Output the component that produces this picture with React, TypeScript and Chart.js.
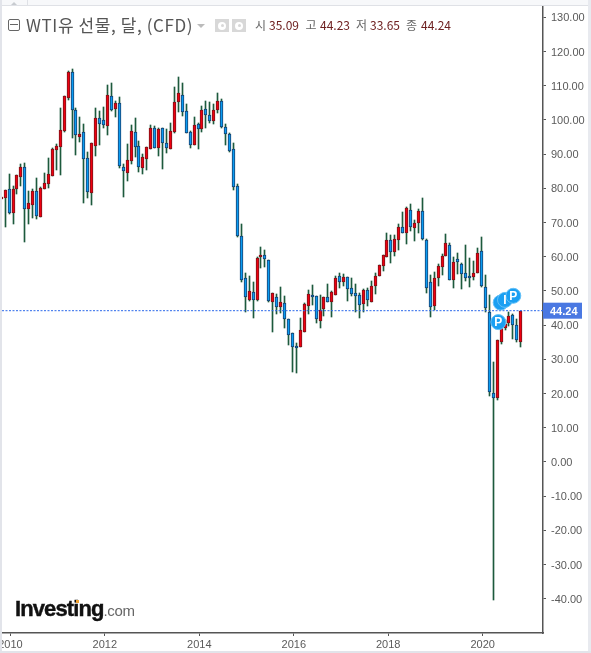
import React, { useEffect, useRef } from "react";
import { Chart, registerables } from "chart.js";

Chart.register(...registerables);

const firstMonthIndex = -2; // Nov 2009, relative to Jan 2010

const opens = [
  77.0, 77.3,
  79.7, 72.9, 79.9, 83.4, 86.2, 74.1, 75.2, 79.1, 71.7, 79.9, 81.4, 83.7,
  91.3, 92.2, 96.8, 106.5, 113.9, 102.8, 95.1, 96.4, 88.8, 78.7, 92.5, 100.5,
  99.9, 98.3, 106.9, 103.3, 104.9, 86.4, 84.6, 88.1, 96.4, 92.3, 86.1, 88.7,
  91.6, 97.6, 91.7, 97.6, 93.2, 91.6, 96.6, 105.4, 107.2, 102.5, 96.4, 92.8,
  98.7, 97.5, 103.1, 101.6, 99.8, 103.0, 105.5, 97.9, 95.8, 91.4, 80.6, 66.0,
  53.7, 47.5, 49.6, 47.4, 59.8, 60.4, 59.0, 46.9, 48.2, 45.3, 46.4, 41.7,
  37.6, 34.0, 33.7, 38.1, 45.7, 48.7, 48.4, 41.3, 44.8, 48.2, 46.7, 48.9,
  54.3, 52.7, 54.0, 50.8, 49.3, 48.7, 46.3, 50.2, 46.9, 51.5, 54.4, 57.4,
  60.0, 64.8, 61.5, 64.9, 68.6, 67.1, 73.6, 68.5, 70.0, 73.3, 64.8, 52.5,
  45.7, 53.9, 57.1, 60.2, 63.4, 53.3, 59.3, 57.8, 55.2, 54.4, 54.2, 55.4,
  61.6, 51.1, 43.8, 20.1, 18.8, 35.2, 39.3, 40.5, 42.9, 40.0, 35.09,
];
const closes = [
  77.5, 79.5,
  72.8, 79.7, 83.8, 86.2, 74.1, 75.6, 79.1, 72.0, 80.0, 81.5, 84.1, 91.4,
  92.3, 97.0, 106.9, 113.9, 102.8, 95.5, 95.8, 88.7, 79.0, 93.2, 100.5, 98.9,
  98.4, 107.2, 103.0, 104.9, 86.6, 85.0, 88.2, 96.7, 92.2, 86.4, 89.1, 92.0,
  97.6, 91.9, 97.3, 93.4, 91.9, 96.7, 105.2, 107.8, 102.4, 96.3, 92.8, 98.4,
  97.5, 102.8, 101.6, 99.8, 102.8, 105.5, 97.9, 96.0, 91.0, 80.5, 66.2, 53.3,
  48.1, 49.9, 47.5, 59.6, 60.4, 59.5, 47.2, 49.3, 45.2, 46.7, 41.7, 37.0,
  33.5, 33.7, 38.5, 46.1, 49.0, 48.3, 41.7, 44.5, 48.2, 46.9, 49.6, 53.7,
  52.7, 54.0, 50.7, 49.2, 48.4, 46.0, 50.2, 47.3, 51.6, 54.3, 57.5, 60.4,
  64.8, 61.5, 65.1, 68.6, 67.1, 74.2, 68.8, 69.8, 73.3, 65.3, 51.0, 45.4,
  53.7, 57.2, 60.1, 64.0, 53.3, 58.4, 58.6, 55.0, 53.9, 54.2, 55.2, 61.1,
  51.6, 45.0, 20.4, 18.8, 35.7, 39.3, 40.3, 42.6, 40.2, 35.7, 44.24,
];
const highs = [
  77.5, 79.5,
  84.2, 80.7, 83.8, 87.1, 87.4, 79.2, 79.7, 83.0, 80.4, 84.5, 88.9, 91.8,
  93.0, 103.5, 107.0, 114.3, 114.9, 103.5, 100.9, 98.7, 90.6, 93.2, 103.6, 102.6,
  103.8, 110.2, 110.8, 105.6, 106.7, 87.0, 93.0, 98.4, 100.5, 93.9, 90.0, 92.0,
  98.4, 98.2, 97.6, 97.8, 97.3, 99.1, 109.6, 112.6, 110.8, 104.7, 96.7, 100.9,
  99.0, 104.0, 105.5, 105.3, 104.6, 107.9, 106.0, 98.7, 96.1, 93.2, 81.2, 69.6,
  55.2, 54.3, 52.6, 59.8, 62.8, 62.0, 59.1, 49.3, 49.0, 51.2, 48.4, 41.8,
  37.6, 34.7, 42.0, 46.4, 50.3, 51.8, 48.5, 48.7, 48.2, 52.1, 49.9, 54.4,
  55.2, 54.9, 54.2, 53.8, 52.0, 49.3, 50.5, 50.8, 52.8, 55.2, 57.5, 60.4,
  66.9, 66.3, 66.4, 69.6, 73.1, 74.5, 75.4, 70.7, 74.0, 77.2, 65.3, 54.6,
  55.5, 57.9, 60.8, 66.6, 64.0, 59.8, 61.0, 58.1, 63.5, 59.7, 58.8, 62.6,
  65.7, 54.7, 48.7, 29.2, 35.7, 40.4, 41.6, 43.8, 43.3, 41.8, 44.24,
];
const lows = [
  77.0, 68.8,
  72.5, 69.6, 78.4, 80.7, 64.3, 69.6, 71.3, 71.1, 71.7, 79.7, 80.1, 83.7,
  85.4, 83.9, 96.6, 105.7, 94.7, 89.8, 93.7, 75.7, 77.2, 75.1, 89.5, 92.7,
  97.7, 95.6, 102.6, 100.9, 86.0, 77.5, 82.2, 87.1, 89.2, 84.9, 84.3, 85.4,
  91.6, 91.8, 89.5, 85.7, 90.3, 91.6, 96.3, 102.3, 101.2, 96.3, 91.9, 92.8,
  91.5, 96.5, 97.7, 99.1, 98.8, 101.9, 97.7, 92.7, 90.6, 79.6, 65.8, 52.7,
  44.0, 47.2, 42.2, 47.2, 56.7, 57.0, 46.8, 38.0, 43.4, 43.7, 39.2, 34.2,
  26.3, 26.1, 33.7, 37.9, 43.3, 45.8, 40.6, 39.3, 42.8, 46.8, 42.5, 48.9,
  51.0, 51.6, 47.2, 48.4, 44.0, 42.2, 44.0, 45.6, 46.9, 49.1, 54.4, 55.9,
  60.0, 58.2, 60.2, 62.0, 66.9, 63.8, 67.4, 64.6, 67.0, 64.8, 49.4, 42.4,
  44.4, 51.5, 54.6, 60.2, 53.1, 50.9, 55.1, 50.6, 53.0, 51.3, 53.1, 55.4,
  51.3, 43.9, 19.3, -40.3, 18.1, 34.5, 38.7, 39.9, 36.1, 35.0, 33.65,
];

const lastPrice = 44.24;
const yTicks = [130, 120, 110, 100, 90, 80, 70, 60, 50, 40, 30, 20, 10, 0, -10, -20, -30, -40];
const xYears = [2010, 2012, 2014, 2016, 2018, 2020];
const markerX = [124.3, 124.9, 126.0, 128.1];
const markerY = [40.9, 46.6, 47.4, 48.6];
const markerLetters = ["P", "", "I", "P"];

const quoteLabels = ["시", "고", "저", "종"];
const quoteValues = ["35.09", "44.23", "33.65", "44.24"];

const RED = "#ee0010";
const RED_EDGE = "#7c1318";
const BLUE = "#0a9cf2";
const BLUE_EDGE = "#17406f";
const WICK = "#1d5a3d";
const AXIS = "#555555";
const TICK_TEXT = "#5a5a5a";
const FONT = '"Liberation Sans", Arial, sans-serif';
const KFONT = '"Noto Sans CJK KR", "Noto Sans", sans-serif';

const overlayPlugin = {
  id: "overlay",
  // Snap the candles onto the pixel grid, as the original renderer does.
  beforeDatasetsDraw(chart: any) {
    [0, 1].forEach((d) => {
      chart.getDatasetMeta(d).data.forEach((el: any) => {
        el.x = Math.floor(el.x) + 0.5;
        el.y = Math.round(el.y);
        el.base = Math.round(el.base);
        if (d === 1 && Math.abs(el.base - el.y) < 2) el.base = el.y + 2;
      });
    });
  },
  afterDatasetsDraw(chart: any) {
    const ctx = chart.ctx;
    const meta = chart.getDatasetMeta(3);
    ctx.save();
    ctx.fillStyle = "#ffffff";
    ctx.font = `bold 12px ${FONT}`;
    ctx.textAlign = "center";
    ctx.textBaseline = "middle";
    meta.data.forEach((pt: any, i: number) => {
      if (markerLetters[i]) ctx.fillText(markerLetters[i], pt.x, pt.y + 0.5);
    });
    ctx.restore();
  },
  afterDraw(chart: any) {
    const ctx = chart.ctx;
    const y = chart.scales.y.getPixelForValue(lastPrice);
    const x = chart.chartArea.right;
    ctx.save();
    ctx.fillStyle = "#4a78e2";
    ctx.fillRect(x, y - 8, 39, 16);
    ctx.fillStyle = "#ffffff";
    ctx.font = `bold 11px ${FONT}`;
    ctx.textAlign = "left";
    ctx.textBaseline = "middle";
    ctx.fillText(lastPrice.toFixed(2), x + 7, y + 1);
    ctx.restore();
  },
};

export default function App() {
  const ref = useRef<HTMLCanvasElement>(null);

  useEffect(() => {
    const xs = opens.map((_, i) => i + firstMonthIndex);
    const up = opens.map((o, i) => closes[i] >= o);
    const chart = new Chart(ref.current as HTMLCanvasElement, {
      type: "bar",
      plugins: [overlayPlugin],
      data: {
        datasets: [
          {
            label: "wick",
            data: xs.map((x, i) => ({ x, y: [lows[i], highs[i]] })),
            backgroundColor: WICK,
            maxBarThickness: 1,
            barPercentage: 1,
            categoryPercentage: 1,
            grouped: false,
            order: 4,
          },
          {
            label: "body",
            data: xs.map((x, i) => ({ x, y: [opens[i], closes[i]] })),
            backgroundColor: up.map((u) => (u ? RED : BLUE)),
            borderColor: up.map((u) => (u ? RED_EDGE : BLUE_EDGE)),
            borderWidth: 1,
            borderSkipped: false,
            maxBarThickness: 3,
            barPercentage: 1,
            categoryPercentage: 1,
            grouped: false,
            order: 3,
          },
          {
            type: "line",
            label: "last",
            data: [
              { x: -1.8, y: lastPrice },
              { x: 135.65, y: lastPrice },
            ],
            borderColor: "#2a68ea",
            borderWidth: 1,
            borderDash: [2, 1.5],
            pointRadius: 0,
            order: 2,
          },
          {
            type: "scatter",
            label: "events",
            data: markerX.map((x, i) => ({ x, y: markerY[i] })),
            backgroundColor: "#1a9ff2",
            borderColor: "#63c0f7",
            borderWidth: 1,
            pointRadius: 7.5,
            order: 1,
          },
        ] as any,
      },
      options: {
        responsive: false,
        animation: false,
        events: [],
        layout: { autoPadding: false, padding: { left: 2, top: 6, right: 0, bottom: 0 } },
        plugins: { legend: { display: false }, tooltip: { enabled: false }, title: { display: false } },
        scales: {
          x: {
            type: "linear",
            min: -1.8,
            max: 135.65,
            offset: false,
            afterBuildTicks: (s: any) => {
              s.ticks = xYears.map((y) => ({ value: (y - 2010) * 12 + 0.33 }));
            },
            afterFit: (s: any) => {
              s.height = 20;
              s.paddingLeft = 0;
              s.paddingRight = 0;
            },
            border: { color: AXIS, width: 1.5 },
            grid: { offset: false, drawOnChartArea: false, drawTicks: true, tickLength: 3, color: AXIS },
            ticks: {
              autoSkip: false,
              maxRotation: 0,
              padding: 2,
              color: TICK_TEXT,
              font: { family: FONT, size: 11 },
              callback: (v: any) => String(2010 + Math.round(v / 12)),
            },
          },
          y: {
            type: "linear",
            position: "right",
            min: -50,
            max: 133.33,
            afterBuildTicks: (s: any) => {
              s.ticks = yTicks.map((v) => ({ value: v }));
            },
            afterFit: (s: any) => {
              s.width = 48;
              s.paddingTop = 0;
              s.paddingBottom = 0;
            },
            border: { color: AXIS, width: 1.5 },
            grid: { drawOnChartArea: false, drawTicks: true, tickLength: 3, color: AXIS },
            ticks: {
              autoSkip: false,
              padding: 5,
              labelOffset: 1,
              color: TICK_TEXT,
              font: { family: FONT, size: 11 },
              callback: (v: any) => Number(v).toFixed(2),
            },
          },
        },
      } as any,
    });
    return () => chart.destroy();
  }, []);

  const abs = (s: React.CSSProperties): React.CSSProperties => ({ position: "absolute", ...s });
  const labelStarts = [255, 305.5, 356, 406];
  const valueStarts = [269, 320, 370, 421];

  return (
    <div style={abs({ left: 0, top: 0, width: 591, height: 653, background: "#fff", overflow: "hidden" })}>
      <canvas ref={ref} width={591} height={653} style={abs({ left: 0, top: 0 })} />

      {/* page chrome */}
      <div style={abs({ left: 0, top: 0, width: 591, height: 5, background: "#f7f8fa", borderBottom: "1px solid #dfe1e6" })} />
      <div style={abs({ left: 27, top: 0, width: 1, height: 5, background: "#dfe1e6" })} />
      <div style={abs({ left: 11, top: 2, width: 0, height: 0, borderLeft: "3px solid transparent", borderRight: "3px solid transparent", borderBottom: "3px solid #c8cbd0" })} />
      <div style={abs({ left: 0, top: 0, width: 2, height: 653, background: "#e2e4ea" })} />
      <div style={abs({ left: 588, top: 0, width: 3, height: 653, background: "#e8eaef" })} />
      <div style={abs({ left: 0, top: 651, width: 591, height: 2, background: "#e2e4ea" })} />

      {/* legend line */}
      <div style={abs({ left: 8, top: 19, width: 10, height: 10, border: "1px solid #666", borderRadius: 2 })}>
        <div style={abs({ left: 1, top: 4, width: 8, height: 1, background: "#666" })} />
      </div>
      <div style={abs({ left: 26, top: 15, font: `17px ${KFONT}`, color: "#555", whiteSpace: "nowrap", lineHeight: "20px", letterSpacing: 0.6 })}>WTI유 선물, 달, (CFD)</div>
      <div style={abs({ left: 197, top: 24, width: 0, height: 0, borderLeft: "4px solid transparent", borderRight: "4px solid transparent", borderTop: "4px solid #bbb" })} />
      <div style={abs({ left: 215, top: 19, width: 14, height: 13, background: "#d8d8d8" })}>
        <div style={abs({ left: 3, top: 2.5, width: 8, height: 8, borderRadius: 4, background: "#fff" })} />
        <div style={abs({ left: 5.5, top: 5, width: 3, height: 3, borderRadius: 2, background: "#d8d8d8" })} />
      </div>
      <div style={abs({ left: 232, top: 19, width: 14, height: 13, background: "#d8d8d8" })}>
        <div style={abs({ left: 3, top: 2.5, width: 8, height: 8, borderRadius: 4, background: "#fff" })} />
        <div style={abs({ left: 5.5, top: 5, width: 3, height: 3, borderRadius: 2, background: "#d8d8d8" })} />
      </div>
      {quoteLabels.map((k, i) => (
        <div key={k} style={abs({ left: labelStarts[i], top: 16, whiteSpace: "nowrap", font: `12px ${KFONT}`, lineHeight: "18px", color: "#666" })}>{k}</div>
      ))}
      {quoteValues.map((v, i) => (
        <div key={i} style={abs({ left: valueStarts[i], top: 16, whiteSpace: "nowrap", font: `12px ${KFONT}`, lineHeight: "18px", color: "#6e2020" })}>{v}</div>
      ))}

      {/* logo */}
      <div style={abs({ left: 15, top: 596, whiteSpace: "nowrap", lineHeight: "28px" })}>
        <span style={{ font: `bold 22px ${FONT}`, color: "#111", letterSpacing: -0.9, WebkitTextStroke: "0.4px #111" }}>Investing</span>
        <span style={{ font: `15px ${FONT}`, color: "#666", letterSpacing: -0.3 }}>.com</span>
      </div>
      <div style={abs({ left: 76, top: 600, width: 3, height: 3, background: "#f0a030" })} />
    </div>
  );
}
